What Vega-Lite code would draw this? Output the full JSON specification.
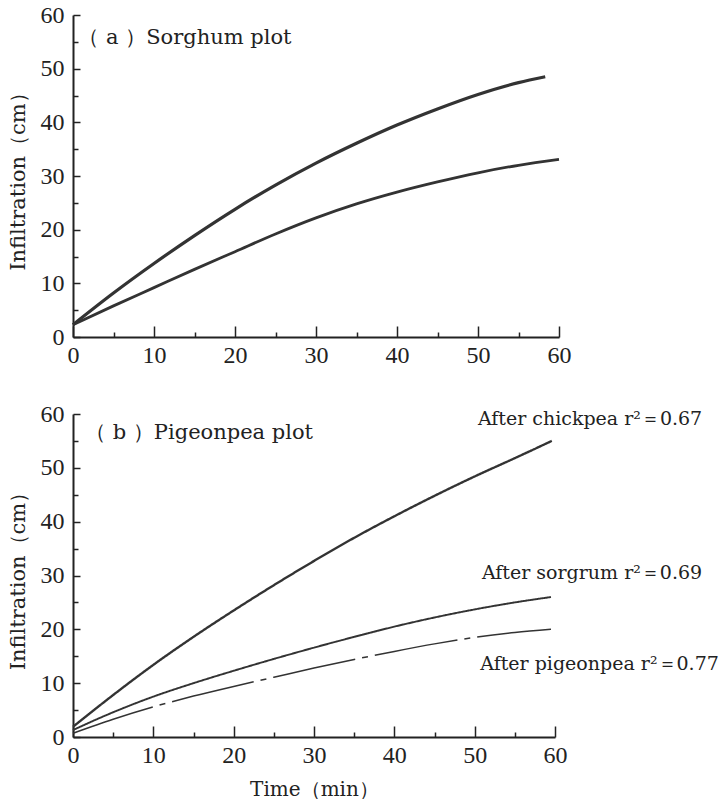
{
  "$schema": "https://vega.github.io/schema/vega-lite/v6.json",
  "padding": {"left": 7, "top": 3, "right": 0, "bottom": 0},
  "spacing": 35,
  "config": {
    "view": {"stroke": null},
    "font": "DejaVu Serif",
    "axis": {
      "grid": false,
      "domainColor": "#222",
      "domainWidth": 2,
      "tickColor": "#222",
      "tickWidth": 1.5,
      "labelFont": "Liberation Serif",
      "labelFontSize": 24,
      "labelColor": "#222",
      "labelOverlap": false,
      "labelFlush": false,
      "titleFont": "DejaVu Serif",
      "titleFontWeight": "normal",
      "titleColor": "#222"
    },
    "text": {"font": "DejaVu Serif", "fontSize": 21, "color": "#222"}
  },
  "datasets": {
    "sorghum": [
      {"series": "Curve 1", "t": 0, "v": 2.3}, {"series": "Curve 1", "t": 5, "v": 8.2}, {"series": "Curve 1", "t": 10, "v": 13.7},
      {"series": "Curve 1", "t": 15, "v": 18.9}, {"series": "Curve 1", "t": 20, "v": 23.8}, {"series": "Curve 1", "t": 25, "v": 28.3},
      {"series": "Curve 1", "t": 30, "v": 32.4}, {"series": "Curve 1", "t": 35, "v": 36.1}, {"series": "Curve 1", "t": 40, "v": 39.5},
      {"series": "Curve 1", "t": 45, "v": 42.5}, {"series": "Curve 1", "t": 50, "v": 45.2}, {"series": "Curve 1", "t": 55, "v": 47.4},
      {"series": "Curve 1", "t": 58.3, "v": 48.5},
      {"series": "Curve 2", "t": 0, "v": 2.3}, {"series": "Curve 2", "t": 5, "v": 5.8}, {"series": "Curve 2", "t": 10, "v": 9.2},
      {"series": "Curve 2", "t": 15, "v": 12.6}, {"series": "Curve 2", "t": 20, "v": 15.9}, {"series": "Curve 2", "t": 25, "v": 19.2},
      {"series": "Curve 2", "t": 30, "v": 22.2}, {"series": "Curve 2", "t": 35, "v": 24.8}, {"series": "Curve 2", "t": 40, "v": 27.0},
      {"series": "Curve 2", "t": 45, "v": 28.9}, {"series": "Curve 2", "t": 50, "v": 30.6}, {"series": "Curve 2", "t": 55, "v": 32.0},
      {"series": "Curve 2", "t": 60, "v": 33.1}
    ],
    "sorghumText": [
      {"label": "（ a ）Sorghum plot", "t": 0.65, "v": 55.7}
    ],
    "pigeonpea": [
      {"series": "After chickpea", "t": 0, "v": 1.9}, {"series": "After chickpea", "t": 5, "v": 7.8}, {"series": "After chickpea", "t": 10, "v": 13.4},
      {"series": "After chickpea", "t": 15, "v": 18.6}, {"series": "After chickpea", "t": 20, "v": 23.5}, {"series": "After chickpea", "t": 25, "v": 28.2},
      {"series": "After chickpea", "t": 30, "v": 32.7}, {"series": "After chickpea", "t": 35, "v": 37.0}, {"series": "After chickpea", "t": 40, "v": 41.0},
      {"series": "After chickpea", "t": 45, "v": 44.8}, {"series": "After chickpea", "t": 50, "v": 48.4}, {"series": "After chickpea", "t": 55, "v": 51.8},
      {"series": "After chickpea", "t": 59.6, "v": 55.0},
      {"series": "After sorgrum", "t": 0, "v": 1.3}, {"series": "After sorgrum", "t": 5, "v": 4.6}, {"series": "After sorgrum", "t": 10, "v": 7.5},
      {"series": "After sorgrum", "t": 15, "v": 10.0}, {"series": "After sorgrum", "t": 20, "v": 12.3}, {"series": "After sorgrum", "t": 25, "v": 14.5},
      {"series": "After sorgrum", "t": 30, "v": 16.6}, {"series": "After sorgrum", "t": 35, "v": 18.6}, {"series": "After sorgrum", "t": 40, "v": 20.5},
      {"series": "After sorgrum", "t": 45, "v": 22.2}, {"series": "After sorgrum", "t": 50, "v": 23.7}, {"series": "After sorgrum", "t": 55, "v": 25.0},
      {"series": "After sorgrum", "t": 59.5, "v": 26.0},
      {"series": "After pigeonpea", "t": 0, "v": 0.7}, {"series": "After pigeonpea", "t": 5, "v": 3.3}, {"series": "After pigeonpea", "t": 10, "v": 5.6},
      {"series": "After pigeonpea", "t": 15, "v": 7.6}, {"series": "After pigeonpea", "t": 20, "v": 9.4}, {"series": "After pigeonpea", "t": 25, "v": 11.1},
      {"series": "After pigeonpea", "t": 30, "v": 12.8}, {"series": "After pigeonpea", "t": 35, "v": 14.4}, {"series": "After pigeonpea", "t": 40, "v": 15.9},
      {"series": "After pigeonpea", "t": 45, "v": 17.3}, {"series": "After pigeonpea", "t": 50, "v": 18.5}, {"series": "After pigeonpea", "t": 55, "v": 19.4},
      {"series": "After pigeonpea", "t": 59.5, "v": 20.0}
    ],
    "pigeonpeaText": [
      {"label": "（ b ）Pigeonpea plot", "t": 1.5, "v": 56.4}
    ],
    "pigeonpeaLabels": [
      {"label": "After chickpea r²＝0.67", "t": 50.4, "v": 59.0},
      {"label": "After sorgrum r²＝0.69", "t": 50.9, "v": 30.5},
      {"label": "After pigeonpea r²＝0.77", "t": 50.7, "v": 13.6}
    ]
  },
  "vconcat": [
    {
      "width": 486,
      "height": 322,
      "resolve": {"axis": {"x": "independent", "y": "independent"}},
      "layer": [
        {
          "data": {"name": "sorghum"},
          "mark": {"type": "line", "interpolate": "monotone", "color": "#333"},
          "encoding": {
            "x": {
              "field": "t", "type": "quantitative",
              "scale": {"domain": [0, 60], "nice": false},
              "axis": {"title": null, "orient": "bottom", "values": [0, 10, 20, 30, 40, 50, 60], "tickSize": -11, "labelPadding": 17}
            },
            "y": {
              "field": "v", "type": "quantitative",
              "scale": {"domain": [0, 60], "nice": false},
              "axis": {"title": "Infiltration（cm）", "orient": "left", "titleFontSize": 21, "titlePadding": 12, "values": [0, 10, 20, 30, 40, 50, 60], "tickSize": -7, "labelPadding": 16}
            },
            "strokeWidth": {"field": "series", "type": "nominal", "scale": {"domain": ["Curve 1", "Curve 2"], "range": [3.2, 1.5]}, "legend": null}
          }
        },
        {
          "data": {"name": "sorghumText"},
          "mark": {"type": "text", "align": "left", "baseline": "middle"},
          "encoding": {
            "x": {"field": "t", "type": "quantitative", "axis": {"title": null, "orient": "bottom", "values": [5, 15, 25, 35, 45, 55], "tickSize": -5, "labels": false, "domain": false}},
            "y": {"field": "v", "type": "quantitative", "axis": {"title": null, "orient": "left", "values": [5, 15, 25, 35, 45, 55], "tickSize": -5, "labels": false, "domain": false}},
            "text": {"field": "label"}
          }
        }
      ]
    },
    {
      "width": 482,
      "height": 323,
      "resolve": {"axis": {"x": "independent", "y": "independent"}},
      "layer": [
        {
          "data": {"name": "pigeonpea"},
          "mark": {"type": "line", "interpolate": "monotone", "color": "#333"},
          "encoding": {
            "x": {
              "field": "t", "type": "quantitative",
              "scale": {"domain": [0, 60], "nice": false},
              "axis": {"title": "Time（min）", "orient": "bottom", "titleFontSize": 20, "titlePadding": 12, "values": [0, 10, 20, 30, 40, 50, 60], "tickSize": -11, "labelPadding": 17}
            },
            "y": {
              "field": "v", "type": "quantitative",
              "scale": {"domain": [0, 60], "nice": false},
              "axis": {"title": "Infiltration（cm）", "orient": "left", "titleFontSize": 21, "titlePadding": 12, "values": [0, 10, 20, 30, 40, 50, 60], "tickSize": -7, "labelPadding": 16}
            },
            "strokeWidth": {"field": "series", "type": "nominal", "scale": {"domain": ["After chickpea", "After sorgrum", "After pigeonpea"], "range": [3.2, 1.5, 1.5]}, "legend": null},
            "strokeDash": {"field": "series", "type": "nominal", "scale": {"domain": ["After chickpea", "After sorgrum", "After pigeonpea"], "range": [[1, 0], [1, 0], [84, 7, 6, 7]]}, "legend": null}
          }
        },
        {
          "data": {"name": "pigeonpeaText"},
          "mark": {"type": "text", "align": "left", "baseline": "middle"},
          "encoding": {
            "x": {"field": "t", "type": "quantitative", "axis": {"title": null, "orient": "bottom", "values": [5, 15, 25, 35, 45, 55], "tickSize": -5, "labels": false, "domain": false}},
            "y": {"field": "v", "type": "quantitative", "axis": {"title": null, "orient": "left", "values": [5, 15, 25, 35, 45, 55], "tickSize": -5, "labels": false, "domain": false}},
            "text": {"field": "label"}
          }
        },
        {
          "data": {"name": "pigeonpeaLabels"},
          "mark": {"type": "text", "align": "left", "baseline": "middle", "fontSize": 19},
          "encoding": {
            "x": {"field": "t", "type": "quantitative", "axis": null},
            "y": {"field": "v", "type": "quantitative", "axis": null},
            "text": {"field": "label"}
          }
        }
      ]
    }
  ]
}
